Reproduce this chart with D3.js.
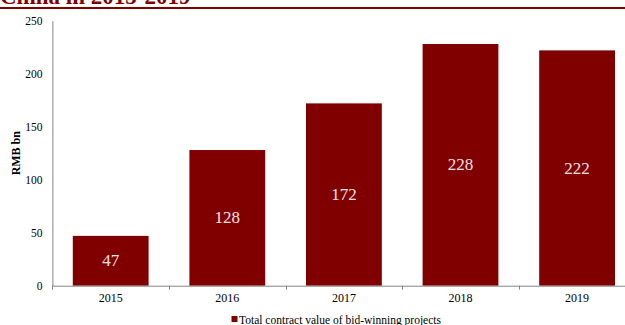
<!DOCTYPE html>
<html>
<head>
<meta charset="utf-8">
<script src="https://cdn.jsdelivr.net/npm/d3@7"></script>
<style>
  html, body { margin: 0; padding: 0; background: #fff; }
  svg { display: block; }
</style>
</head>
<body>
<svg id="chart" width="625" height="325"></svg>
<script>
// Yearly contract value of bid-winning projects (RMB bn)
const years = ["2015", "2016", "2017", "2018", "2019"];
const values = [47, 128, 172, 228, 222];
const yTicks = [0, 50, 100, 150, 200, 250];
const titleText = "China in 2015-2019";
const yAxisTitle = "RMB bn";
const legendLabel = "Total contract value of bid-winning projects";

const barColor = "#800000";
const axisColor = "#868686";
const serif = "'Liberation Serif', 'Times New Roman', serif";

const svg = d3.select("#chart");

// Title (running off the top edge) and red rule beneath it
svg.append("text")
  .attr("x", 0).attr("y", 4)
  .attr("font-family", serif).attr("font-weight", "bold")
  .attr("font-size", 23).attr("fill", "#800000")
  .text(titleText);
svg.append("rect")
  .attr("x", 0).attr("y", 7).attr("width", 625).attr("height", 2)
  .attr("fill", "#800000");

const plot = { left: 52.4, right: 635.4, top: 20.7, bottom: 285.7 };

const x = d3.scaleBand().domain(years)
  .range([plot.left, plot.right])
  .paddingInner(0.35).paddingOuter(0.175);
const y = d3.scaleLinear().domain([0, 250]).range([plot.bottom, plot.top]);

// Bars
svg.append("g").selectAll("rect").data(values).join("rect")
  .attr("x", (d, i) => x(years[i]))
  .attr("y", d => y(d))
  .attr("width", x.bandwidth())
  .attr("height", d => y(0) - y(d))
  .attr("fill", barColor);

// Value labels in the middle of each bar
svg.append("g").selectAll("text").data(values).join("text")
  .attr("x", (d, i) => x(years[i]) + x.bandwidth() / 2)
  .attr("y", d => (y(d) + y(0)) / 2)
  .attr("text-anchor", "middle")
  .attr("dominant-baseline", "central")
  .attr("font-family", serif).attr("font-size", 17)
  .attr("fill", "#f3e4e4")
  .text(d => d);

// Y axis: line plus labels, no tick marks
const yAxis = d3.axisLeft(y).tickValues(yTicks).tickSize(0).tickPadding(10);
const gy = svg.append("g").attr("transform", `translate(${plot.left},0)`).call(yAxis);
gy.select(".domain").attr("stroke", axisColor);
gy.selectAll("text").attr("font-family", serif).attr("font-size", 11.5).attr("fill", "#000");

// X axis: baseline with small ticks on the band boundaries
const gx = svg.append("g");
gx.append("line")
  .attr("x1", plot.left).attr("x2", plot.right)
  .attr("y1", plot.bottom + 0.5).attr("y2", plot.bottom + 0.5)
  .attr("stroke", axisColor);
const step = x.step();
const edges = d3.range(years.length + 1).map(i => plot.left + i * step);
gx.selectAll("line.tick").data(edges).join("line")
  .attr("class", "tick")
  .attr("x1", d => Math.round(d) + 0.5).attr("x2", d => Math.round(d) + 0.5)
  .attr("y1", plot.bottom).attr("y2", plot.bottom + 4)
  .attr("stroke", axisColor);
gx.selectAll("text").data(years).join("text")
  .attr("x", d => x(d) + x.bandwidth() / 2)
  .attr("y", 301.5)
  .attr("text-anchor", "middle")
  .attr("font-family", serif).attr("font-size", 12)
  .text(d => d);

// Y axis title
svg.append("text")
  .attr("transform", `translate(20,${(plot.top + plot.bottom) / 2}) rotate(-90)`)
  .attr("text-anchor", "middle")
  .attr("font-family", serif).attr("font-weight", "bold").attr("font-size", 12)
  .text(yAxisTitle);

// Legend
const lg = svg.append("g");
lg.append("rect")
  .attr("x", 231.5).attr("y", 316).attr("width", 6).attr("height", 6)
  .attr("fill", barColor);
lg.append("text")
  .attr("x", 239).attr("y", 323.5)
  .attr("font-family", serif).attr("font-size", 11.5)
  .text(legendLabel);
</script>
</body>
</html>
